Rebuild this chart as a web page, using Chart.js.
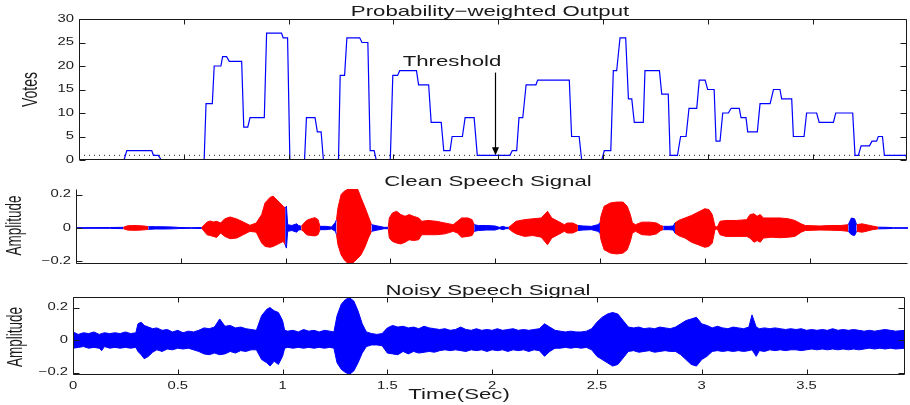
<!DOCTYPE html>
<html lang="en">
<head>
<meta charset="UTF-8" />
<title>Probability-weighted Output</title>
<script src="https://cdn.jsdelivr.net/npm/chart.js"></script>
<style>
  html, body { margin: 0; padding: 0; background: #fff; }
  #wrap { position: relative; width: 910px; height: 405px; overflow: hidden; }
  #wrap canvas { position: absolute; left: 0; }
</style>
</head>
<body>
<div id="wrap">
  <canvas id="votesChart" width="910" height="172" style="top:0"></canvas>
  <canvas id="cleanChart" width="910" height="103" style="top:172px"></canvas>
  <canvas id="noisyChart" width="910" height="127" style="top:278px"></canvas>
</div>
<script>
  // ---- data ----
  const voteTime = [0, 0.215, 0.228, 0.347, 0.355, 0.378, 0.393, 0.597, 0.606, 0.636, 0.645, 0.677, 0.685, 0.704, 0.717, 0.776,
    0.786, 0.805, 0.816, 0.884, 0.895, 0.966, 0.974, 0.995, 1.006, 1.076, 1.085, 1.126, 1.137, 1.155, 1.166, 1.238,
    1.246, 1.267, 1.278, 1.339, 1.35, 1.378, 1.389, 1.408, 1.418, 1.485, 1.497, 1.52, 1.53, 1.61, 1.62, 1.668,
    1.68, 1.728, 1.74, 1.77, 1.78, 1.829, 1.842, 1.885, 1.9, 2.056, 2.067, 2.088, 2.099, 2.117, 2.133, 2.18,
    2.188, 2.339, 2.35, 2.386, 2.398, 2.494, 2.506, 2.537, 2.549, 2.565, 2.581, 2.608, 2.621, 2.637, 2.649, 2.692,
    2.7, 2.769, 2.78, 2.811, 2.82, 2.855, 2.87, 2.896, 2.91, 2.947, 2.959, 2.987, 2.999, 3.03, 3.039, 3.058,
    3.071, 3.098, 3.111, 3.15, 3.158, 3.182, 3.19, 3.236, 3.249, 3.297, 3.313, 3.344, 3.352, 3.4, 3.408, 3.459,
    3.471, 3.519, 3.531, 3.599, 3.61, 3.691, 3.702, 3.718, 3.731, 3.771, 3.783, 3.805, 3.813, 3.833, 3.842, 3.945, 3.95];
  const voteValue = [0, 0, 2, 2, 1, 1, 0, 0, 12, 12, 20, 20, 22, 22, 21, 21,
    7, 7, 9, 9, 27, 27, 26, 26, 0, 0, 9, 9, 6, 6, 0, 0,
    18, 18, 26, 26, 25, 25, 2, 2, 0, 0, 18, 18, 19, 19, 16, 16,
    8, 8, 2, 2, 5, 5, 9, 9, 1, 1, 2, 2, 9, 9, 16, 16,
    17, 17, 5, 5, 0, 0, 2, 2, 19, 19, 26, 26, 13, 13, 8, 8,
    19, 19, 14, 14, 1, 1, 5, 5, 11, 11, 17, 17, 15, 15, 4, 4,
    10, 10, 11, 11, 9, 9, 6, 6, 12, 12, 15, 15, 13, 13, 5, 5,
    10, 10, 8, 8, 10, 10, 1, 1, 3, 3, 4, 4, 5, 5, 1, 1, 0];
  const thresholdVotes = 1;
  const thresholdArrowTime = 1.985;
  const thresholdArrowTop = 18.6;

  const cleanTime = [0, 0.16, 0.226, 0.245, 0.27, 0.3, 0.325, 0.345, 0.38, 0.42, 0.46, 0.496, 0.55, 0.6, 0.607, 0.625,
    0.64, 0.655, 0.671, 0.69, 0.71, 0.735, 0.767, 0.798, 0.83, 0.86, 0.886, 0.902, 0.926, 0.941, 0.965, 0.989,
    0.998, 1.004, 1.01, 1.03, 1.053, 1.062, 1.075, 1.085, 1.1, 1.12, 1.14, 1.155, 1.164, 1.19, 1.22, 1.238,
    1.243, 1.25, 1.265, 1.28, 1.3, 1.32, 1.345, 1.36, 1.38, 1.395, 1.41, 1.44, 1.47, 1.49, 1.495, 1.51,
    1.53, 1.55, 1.57, 1.59, 1.61, 1.635, 1.65, 1.68, 1.72, 1.76, 1.8, 1.82, 1.84, 1.87, 1.89, 1.9,
    1.92, 1.96, 2.0, 2.02, 2.039, 2.05, 2.065, 2.08, 2.1, 2.14, 2.18, 2.22, 2.25, 2.27, 2.3, 2.33,
    2.345, 2.37, 2.395, 2.42, 2.46, 2.49, 2.5, 2.505, 2.52, 2.55, 2.58, 2.61, 2.63, 2.645, 2.655, 2.67,
    2.7, 2.74, 2.77, 2.79, 2.802, 2.83, 2.85, 2.858, 2.875, 2.906, 2.937, 2.969, 3.0, 3.02, 3.036, 3.049,
    3.06, 3.073, 3.1, 3.15, 3.2, 3.216, 3.235, 3.25, 3.265, 3.28, 3.32, 3.36, 3.4, 3.43, 3.46, 3.48,
    3.55, 3.6, 3.65, 3.685, 3.7, 3.715, 3.725, 3.75, 3.77, 3.8, 3.828, 3.87, 3.9, 3.97];
  const cleanUpper = [0.002, 0.003, 0.004, 0.013, 0.015, 0.014, 0.012, 0.008, 0.008, 0.007, 0.006, 0.003, 0.002, 0.003, 0.012, 0.035,
    0.042, 0.036, 0.04, 0.03, 0.055, 0.066, 0.054, 0.036, 0.016, 0.03, 0.08, 0.15, 0.183, 0.19, 0.16, 0.13,
    0.12, 0.13, 0.02, 0.015, 0.025, 0.015, 0.01, 0.025, 0.045, 0.055, 0.062, 0.05, 0.01, 0.01, 0.006, 0.035,
    0.05, 0.12, 0.2, 0.22, 0.233, 0.235, 0.23, 0.18, 0.12, 0.07, 0.02, 0.012, 0.004, 0.004, 0.06, 0.09,
    0.1, 0.08, 0.07, 0.08, 0.07, 0.06, 0.04, 0.045, 0.04, 0.03, 0.02, 0.04, 0.06, 0.06, 0.05, 0.02,
    0.015, 0.015, 0.012, 0.004, 0.01, 0.004, 0.004, 0.02, 0.04, 0.05, 0.055, 0.06, 0.1, 0.06, 0.04, 0.02,
    0.03, 0.03, 0.015, 0.012, 0.01, 0.02, 0.03, 0.07, 0.13, 0.15, 0.155, 0.155, 0.13, 0.08, 0.03, 0.02,
    0.035, 0.035, 0.03, 0.015, 0.01, 0.01, 0.012, 0.03, 0.045, 0.06, 0.075, 0.095, 0.115, 0.11, 0.08, 0.01,
    0.005, 0.04, 0.045, 0.045, 0.05, 0.08, 0.085, 0.07, 0.08, 0.06, 0.06, 0.06, 0.055, 0.045, 0.025, 0.015,
    0.012, 0.015, 0.015, 0.02, 0.06, 0.055, 0.02, 0.025, 0.02, 0.012, 0.005, 0.004, 0.002, 0.002];
  const cleanLower = [-0.002, -0.002, -0.004, -0.012, -0.014, -0.013, -0.011, -0.008, -0.006, -0.006, -0.005, -0.003, -0.002, -0.003, -0.012, -0.04,
    -0.045, -0.05, -0.056, -0.03, -0.05, -0.064, -0.06, -0.04, -0.02, -0.025, -0.09, -0.11, -0.115, -0.11, -0.095, -0.08,
    -0.1, -0.12, -0.02, -0.015, -0.025, -0.012, -0.01, -0.02, -0.04, -0.045, -0.047, -0.04, -0.01, -0.01, -0.006, -0.02,
    -0.04, -0.1, -0.16, -0.19, -0.215, -0.21, -0.18, -0.16, -0.11, -0.06, -0.02, -0.012, -0.004, -0.004, -0.06, -0.08,
    -0.09, -0.095, -0.085, -0.07, -0.075, -0.07, -0.04, -0.04, -0.04, -0.035, -0.02, -0.03, -0.055, -0.05, -0.045, -0.02,
    -0.015, -0.012, -0.012, -0.004, -0.01, -0.004, -0.004, -0.02, -0.035, -0.05, -0.045, -0.055, -0.1, -0.06, -0.04, -0.02,
    -0.03, -0.03, -0.015, -0.012, -0.01, -0.02, -0.03, -0.07, -0.13, -0.15, -0.155, -0.15, -0.13, -0.08, -0.03, -0.02,
    -0.04, -0.043, -0.035, -0.015, -0.01, -0.01, -0.012, -0.03, -0.045, -0.06, -0.085, -0.1, -0.115, -0.11, -0.09, -0.01,
    -0.005, -0.04, -0.05, -0.05, -0.05, -0.06, -0.085, -0.075, -0.085, -0.06, -0.055, -0.058, -0.055, -0.05, -0.025, -0.015,
    -0.012, -0.013, -0.015, -0.02, -0.04, -0.045, -0.02, -0.025, -0.02, -0.01, -0.005, -0.004, -0.002, -0.002];
  // 1 = speech (red), 0 = non-speech (blue); colours the stretch from this point to the next
  const cleanVoiced = [0, 0, 1, 1, 1, 1, 1, 0, 0, 0, 0, 0, 0, 1, 1, 1,
    1, 1, 1, 1, 1, 1, 1, 1, 1, 1, 1, 1, 1, 1, 1, 1,
    0, 0, 0, 0, 0, 0, 1, 1, 1, 1, 1, 1, 0, 0, 0, 0,
    1, 1, 1, 1, 1, 1, 1, 1, 1, 1, 0, 0, 0, 1, 1, 1,
    1, 1, 1, 1, 1, 1, 1, 1, 1, 1, 1, 1, 1, 1, 1, 0,
    0, 0, 0, 0, 0, 0, 1, 1, 1, 1, 1, 1, 1, 1, 1, 1,
    1, 1, 0, 0, 0, 0, 1, 1, 1, 1, 1, 1, 1, 1, 1, 1,
    1, 1, 1, 1, 0, 0, 0, 1, 1, 1, 1, 1, 1, 1, 1, 1,
    1, 1, 1, 1, 1, 1, 1, 1, 1, 1, 1, 1, 1, 1, 1, 1,
    1, 1, 1, 0, 0, 0, 1, 1, 1, 1, 0, 0, 0, 0];

  const noisyTime = [0, 0.025, 0.05, 0.075, 0.1, 0.125, 0.137, 0.15, 0.175, 0.2, 0.225, 0.25, 0.275, 0.3, 0.31, 0.325,
    0.34, 0.36, 0.38, 0.4, 0.425, 0.45, 0.475, 0.5, 0.525, 0.55, 0.575, 0.6, 0.625, 0.65, 0.675, 0.7,
    0.725, 0.75, 0.775, 0.8, 0.825, 0.85, 0.875, 0.9, 0.925, 0.94, 0.96, 0.98, 1.0, 1.01, 1.025, 1.05,
    1.075, 1.1, 1.125, 1.15, 1.175, 1.2, 1.225, 1.245, 1.26, 1.28, 1.3, 1.32, 1.34, 1.36, 1.38, 1.4,
    1.425, 1.45, 1.475, 1.5, 1.525, 1.55, 1.575, 1.6, 1.625, 1.65, 1.675, 1.7, 1.725, 1.75, 1.775, 1.8,
    1.825, 1.85, 1.875, 1.9, 1.925, 1.95, 1.975, 2.0, 2.025, 2.05, 2.075, 2.1, 2.125, 2.15, 2.175, 2.2,
    2.225, 2.25, 2.275, 2.3, 2.325, 2.35, 2.375, 2.4, 2.425, 2.45, 2.475, 2.5, 2.525, 2.55, 2.575, 2.6,
    2.625, 2.65, 2.675, 2.7, 2.725, 2.75, 2.775, 2.8, 2.825, 2.85, 2.875, 2.9, 2.925, 2.95, 2.975, 3.0,
    3.025, 3.05, 3.075, 3.1, 3.125, 3.15, 3.175, 3.2, 3.225, 3.24, 3.26, 3.275, 3.3, 3.325, 3.35, 3.375,
    3.4, 3.425, 3.45, 3.475, 3.5, 3.525, 3.55, 3.575, 3.6, 3.625, 3.65, 3.675, 3.7, 3.725, 3.75, 3.775,
    3.8, 3.825, 3.85, 3.875, 3.9, 3.925, 3.97];
  const noisyUpper = [0.05, 0.035, 0.045, 0.04, 0.05, 0.035, 0.04, 0.045, 0.04, 0.045, 0.04, 0.05, 0.04, 0.045, 0.1, 0.11,
    0.09, 0.08, 0.07, 0.075, 0.06, 0.065, 0.05, 0.06, 0.045, 0.055, 0.05, 0.06, 0.075, 0.07, 0.08, 0.13,
    0.085, 0.09, 0.075, 0.08, 0.07, 0.065, 0.06, 0.15, 0.19, 0.2, 0.18, 0.17, 0.12, 0.06, 0.055, 0.06,
    0.05, 0.065, 0.055, 0.06, 0.05, 0.06, 0.055, 0.05, 0.15, 0.22, 0.25, 0.26, 0.24, 0.18, 0.1, 0.05,
    0.04, 0.035, 0.04, 0.075, 0.09, 0.08, 0.085, 0.075, 0.08, 0.07, 0.085, 0.075, 0.07, 0.065, 0.07, 0.06,
    0.065, 0.08, 0.065, 0.06, 0.07, 0.06, 0.065, 0.06, 0.07, 0.06, 0.065, 0.07, 0.06, 0.065, 0.06, 0.065,
    0.07, 0.1, 0.08, 0.06, 0.055, 0.05, 0.055, 0.05, 0.05, 0.055, 0.07, 0.11, 0.14, 0.16, 0.17, 0.16,
    0.12, 0.08, 0.075, 0.08, 0.07, 0.075, 0.07, 0.08, 0.075, 0.07, 0.08, 0.1, 0.12, 0.13, 0.14, 0.1,
    0.09, 0.075, 0.085, 0.075, 0.07, 0.08, 0.075, 0.07, 0.08, 0.155, 0.08, 0.07, 0.075, 0.07, 0.075, 0.07,
    0.065, 0.07, 0.065, 0.07, 0.06, 0.065, 0.06, 0.065, 0.06, 0.07, 0.06, 0.065, 0.06, 0.065, 0.06, 0.055,
    0.06, 0.055, 0.06, 0.065, 0.06, 0.055, 0.06];
  const noisyLower = [-0.05, -0.045, -0.04, -0.05, -0.045, -0.05, -0.065, -0.04, -0.05, -0.045, -0.05, -0.045, -0.05, -0.045, -0.07, -0.09,
    -0.115, -0.1, -0.075, -0.06, -0.07, -0.055, -0.06, -0.05, -0.055, -0.05, -0.06, -0.07, -0.085, -0.09, -0.08, -0.09,
    -0.085, -0.07, -0.08, -0.065, -0.07, -0.06, -0.06, -0.12, -0.14, -0.16, -0.13, -0.15, -0.1, -0.05, -0.045, -0.05,
    -0.045, -0.05, -0.045, -0.05, -0.045, -0.05, -0.045, -0.05, -0.14, -0.18, -0.2, -0.21, -0.19, -0.14, -0.08, -0.04,
    -0.03, -0.03, -0.035, -0.08, -0.085, -0.09, -0.07, -0.085, -0.07, -0.08, -0.075, -0.07, -0.075, -0.065, -0.06, -0.065,
    -0.06, -0.065, -0.07, -0.06, -0.065, -0.06, -0.07, -0.06, -0.065, -0.06, -0.07, -0.06, -0.065, -0.06, -0.07, -0.06,
    -0.065, -0.1, -0.07, -0.05, -0.05, -0.045, -0.05, -0.045, -0.05, -0.045, -0.06, -0.1, -0.12, -0.14, -0.16, -0.15,
    -0.11, -0.07, -0.065, -0.075, -0.07, -0.065, -0.075, -0.07, -0.065, -0.07, -0.07, -0.09, -0.12, -0.15, -0.16, -0.12,
    -0.1, -0.07, -0.065, -0.07, -0.065, -0.07, -0.065, -0.07, -0.065, -0.06, -0.1, -0.065, -0.07, -0.06, -0.065, -0.06,
    -0.065, -0.06, -0.06, -0.065, -0.06, -0.055, -0.06, -0.055, -0.06, -0.055, -0.06, -0.055, -0.06, -0.055, -0.06, -0.055,
    -0.05, -0.055, -0.05, -0.055, -0.05, -0.055, -0.05];

  const timeTicks = [0, 0.5, 1, 1.5, 2, 2.5, 3, 3.5];
  const voteTicks = [0, 5, 10, 15, 20, 25, 30];
  const ampTicks = [-0.2, 0, 0.2];

  // ---- look ----
  const BLUE = '#0000ff';
  const RED = '#ff0000';
  const INK = '#1a1a1a';
  const FONT = '"Liberation Sans", Arial, sans-serif';
  const STRETCH = 1.48; // the figure's text is wide, squashed vertically
  const SIDE_STRETCH = 1.6;

  function fmt(v) {
    return v < 0 ? '\u2212' + Math.abs(v) : String(v);
  }

  function wideText(ctx, txt, x, y, size, align, baseline) {
    ctx.save();
    ctx.font = size + 'px ' + FONT;
    ctx.textAlign = align;
    ctx.textBaseline = baseline;
    ctx.fillStyle = INK;
    ctx.translate(x, y);
    ctx.scale(STRETCH, 1);
    ctx.fillText(txt, 0, 0);
    ctx.restore();
  }

  function sideText(ctx, txt, x, y, size) {
    ctx.save();
    ctx.font = size + 'px ' + FONT;
    ctx.textAlign = 'center';
    ctx.textBaseline = 'middle';
    ctx.fillStyle = INK;
    ctx.translate(x, y);
    ctx.rotate(-Math.PI / 2);
    ctx.scale(1, SIDE_STRETCH);
    ctx.fillText(txt, 0, 0);
    ctx.restore();
  }

  // axes box, inward ticks and all the labels, matlab style
  function axesDeco(cfg) {
    return {
      id: 'axesDeco',
      afterDatasetsDraw(chart) {
        const { ctx, chartArea: a, scales: { x, y } } = chart;
        const L = Math.round(a.left) + 0.5, R = Math.round(a.right) - 0.5;
        const T = Math.round(a.top) + 0.5, B = Math.round(a.bottom) - 0.5;
        ctx.save();
        ctx.strokeStyle = INK;
        ctx.lineWidth = 1;
        ctx.beginPath();
        ctx.moveTo(L, T); ctx.lineTo(L, B); ctx.lineTo(R, B);
        if (cfg.box) { ctx.lineTo(R, T); ctx.lineTo(L, T); }
        ctx.stroke();

        ctx.beginPath();
        x.ticks.forEach(t => {
          const px = Math.round(x.getPixelForValue(t.value)) + 0.5;
          ctx.moveTo(px, B); ctx.lineTo(px, B - 5);
          if (cfg.box) { ctx.moveTo(px, T); ctx.lineTo(px, T + 5); }
        });
        y.ticks.forEach(t => {
          const py = Math.round(y.getPixelForValue(t.value)) + 0.5;
          ctx.moveTo(L, py); ctx.lineTo(L + 6, py);
          if (cfg.box) { ctx.moveTo(R, py); ctx.lineTo(R - 6, py); }
        });
        ctx.stroke();
        ctx.restore();

        y.ticks.forEach(t => {
          wideText(ctx, fmt(t.value), a.left - 5, y.getPixelForValue(t.value), 10, 'right', 'middle');
        });
        if (cfg.xLabels) {
          x.ticks.forEach(t => {
            wideText(ctx, fmt(t.value), x.getPixelForValue(t.value), a.bottom + 13.5, 10, 'center', 'alphabetic');
          });
        }
        wideText(ctx, cfg.title, cfg.titleX, cfg.titleY, 15, 'center', 'alphabetic');
        sideText(ctx, cfg.yTitle, cfg.yTitleX, (a.top + a.bottom) / 2 + cfg.yTitleDy, cfg.yTitleSize);
        if (cfg.xTitle) {
          wideText(ctx, cfg.xTitle, cfg.xTitleX, cfg.xTitleY, 15, 'center', 'alphabetic');
        }
        if (cfg.extra) cfg.extra(chart);
      }
    };
  }

  function baseOptions(xMax, yMin, yMax, yTicks, yWidth, xHeight, pad) {
    return {
      responsive: false,
      animation: false,
      events: [],
      layout: { padding: pad },
      plugins: { legend: { display: false }, tooltip: { enabled: false }, title: { display: false } },
      elements: { point: { radius: 0 }, line: { tension: 0 } },
      scales: {
        x: {
          type: 'linear', min: 0, max: xMax,
          grid: { display: false, drawTicks: false }, border: { display: false },
          ticks: { display: false },
          afterBuildTicks: s => { s.ticks = timeTicks.map(v => ({ value: v })); },
          afterFit: s => { s.height = xHeight; }
        },
        y: {
          type: 'linear', min: yMin, max: yMax,
          grid: { display: false, drawTicks: false }, border: { display: false },
          ticks: { display: false },
          afterBuildTicks: s => { s.ticks = yTicks.map(v => ({ value: v })); },
          afterFit: s => { s.width = yWidth; }
        }
      }
    };
  }

  const pts = (xs, ys) => xs.map((t, i) => ({ x: t, y: ys[i] }));

  // ---- top: votes ----
  new Chart(document.getElementById('votesChart'), {
    type: 'line',
    data: {
      datasets: [
        { data: pts(voteTime, voteValue), borderColor: BLUE, borderWidth: 1.2, fill: false },
        { data: [{ x: 0, y: thresholdVotes }, { x: 3.95, y: thresholdVotes }],
          borderColor: '#222', borderWidth: 1, borderDash: [1, 4], fill: false }
      ]
    },
    options: baseOptions(3.95, 0, 30, voteTicks, 79, 0, { top: 19, bottom: 12, left: 0, right: 3 }),
    plugins: [axesDeco({
      box: true, title: 'Probability\u2212weighted Output', titleX: 490, titleY: 16,
      yTitle: 'Votes', yTitleX: 31, yTitleDy: 0, yTitleSize: 14,
      extra(chart) {
        const { ctx, scales: { x, y } } = chart;
        const ax = Math.round(x.getPixelForValue(thresholdArrowTime)) + 0.5;
        const tip = y.getPixelForValue(thresholdVotes);
        ctx.save();
        ctx.strokeStyle = '#000';
        ctx.fillStyle = '#000';
        ctx.lineWidth = 1.2;
        ctx.beginPath();
        ctx.moveTo(ax, y.getPixelForValue(thresholdArrowTop));
        ctx.lineTo(ax, tip - 6);
        ctx.stroke();
        ctx.beginPath();
        ctx.moveTo(ax, tip);
        ctx.lineTo(ax - 3.5, tip - 8);
        ctx.lineTo(ax + 3.5, tip - 8);
        ctx.closePath();
        ctx.fill();
        ctx.restore();
        wideText(ctx, 'Threshold', 452, 66, 15, 'center', 'alphabetic');
      }
    })]
  });

  // ---- middle: clean speech ----
  const voicedColor = c => cleanVoiced[c.p0DataIndex] ? RED : BLUE;
  new Chart(document.getElementById('cleanChart'), {
    type: 'line',
    data: {
      datasets: [
        { data: pts(cleanTime, cleanUpper), borderWidth: 1, borderColor: BLUE, backgroundColor: BLUE, fill: '+1',
          segment: { borderColor: voicedColor, backgroundColor: voicedColor } },
        { data: pts(cleanTime, cleanLower), borderWidth: 1, borderColor: BLUE, fill: false,
          segment: { borderColor: voicedColor } }
      ]
    },
    options: baseOptions(3.97, -0.215, 0.233, ampTicks, 76, 0, { top: 17, bottom: 11, left: 0, right: 2 }),
    plugins: [axesDeco({
      box: false, title: 'Clean Speech Signal', titleX: 488, titleY: 13.5,
      yTitle: 'Amplitude', yTitleX: 15, yTitleDy: -1, yTitleSize: 13.5
    })]
  });

  // ---- bottom: noisy speech ----
  new Chart(document.getElementById('noisyChart'), {
    type: 'line',
    data: {
      datasets: [
        { data: pts(noisyTime, noisyUpper), borderWidth: 1, borderColor: BLUE, backgroundColor: BLUE, fill: '+1' },
        { data: pts(noisyTime, noisyLower), borderWidth: 1, borderColor: BLUE, fill: false }
      ]
    },
    options: baseOptions(3.97, -0.215, 0.265, ampTicks, 73, 30, { top: 19, bottom: 0, left: 0, right: 5 }),
    plugins: [axesDeco({
      box: true, title: 'Noisy Speech Signal', titleX: 488, titleY: 17,
      yTitle: 'Amplitude', yTitleX: 16, yTitleDy: 1, yTitleSize: 13.5,
      xLabels: true, xTitle: 'Time(Sec)', xTitleX: 459, xTitleY: 121
    })]
  });
</script>
</body>
</html>
